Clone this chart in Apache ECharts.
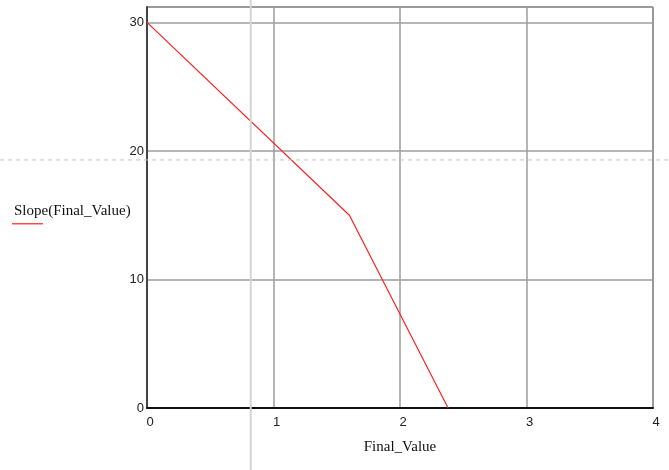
<!DOCTYPE html>
<html>
<head>
<meta charset="utf-8">
<script src="https://cdn.jsdelivr.net/npm/echarts@6/dist/echarts.min.js"></script>
<style>html,body{margin:0;padding:0;background:#fff}#c{width:669px;height:470px}</style>
</head>
<body>
<div id="c"></div>
<script>
var xValues = [0, 1.6, 2.38];
var slopeValues = [30, 15, 0];
var xTicks = [0, 1, 2, 3, 4];
var yTicks = [0, 10, 20, 30];
var seriesName = 'Slope(Final_Value)';
var xTitle = 'Final_Value';
var cursorX = 0.82;
var cursorY = 19.3;

var chart = echarts.init(document.getElementById('c'));
var data = xValues.map(function (x, i) { return [x, slopeValues[i]]; });
var tickFont = { fontFamily: 'Liberation Sans', fontSize: 13, color: '#222' };

chart.setOption({
  animation: false,
  grid: { left: 147, right: 16, top: 7, bottom: 62, show: true, borderColor: '#222', borderWidth: 1 },
  xAxis: {
    type: 'value', min: xTicks[0], max: xTicks[xTicks.length - 1], interval: 1,
    name: xTitle, nameLocation: 'middle', nameGap: 32,
    nameTextStyle: { fontFamily: 'Liberation Serif', fontSize: 15, color: '#111' },
    axisLine: { lineStyle: { color: '#111', width: 2 } },
    axisTick: { show: false },
    axisLabel: Object.assign({ margin: 8, padding: [0, 0, 0, 6] }, tickFont),
    splitLine: { lineStyle: { color: '#9c9c9c', width: 1.5 } }
  },
  yAxis: {
    type: 'value', min: yTicks[0], max: 31.2, interval: 10,
    axisLine: { show: true, lineStyle: { color: '#444', width: 2 } },
    axisTick: { show: false },
    axisLabel: Object.assign({ margin: 3, showMaxLabel: false }, tickFont),
    splitLine: { lineStyle: { color: '#9c9c9c', width: 1.5 } }
  },
  series: [{
    name: seriesName, type: 'line', data: data, showSymbol: false,
    lineStyle: { color: '#ff2020', width: 1.2 }
  }]
});

var px = chart.convertToPixel({ gridIndex: 0 }, [cursorX, cursorY]);
var yMid = chart.convertToPixel({ gridIndex: 0 }, [0, 15.5]);
chart.setOption({
  graphic: [
    { type: 'line', z: 100, shape: { x1: px[0], y1: 0, x2: px[0], y2: 470 }, style: { stroke: '#d4d4d4', lineWidth: 2 } },
    { type: 'line', z: 100, shape: { x1: 0, y1: px[1], x2: 669, y2: px[1] }, style: { stroke: '#c4c4c4', lineWidth: 1, lineDash: [4, 4] } },
    { type: 'text', z: 101, x: 14, y: yMid[1] + 2, style: { text: seriesName, font: '15px "Liberation Serif"', fill: '#111', textVerticalAlign: 'middle' } },
    { type: 'line', z: 101, shape: { x1: 12, y1: yMid[1] + 15, x2: 43, y2: yMid[1] + 15 }, style: { stroke: '#ff2020', lineWidth: 1.2 } }
  ]
});
</script>
</body>
</html>
